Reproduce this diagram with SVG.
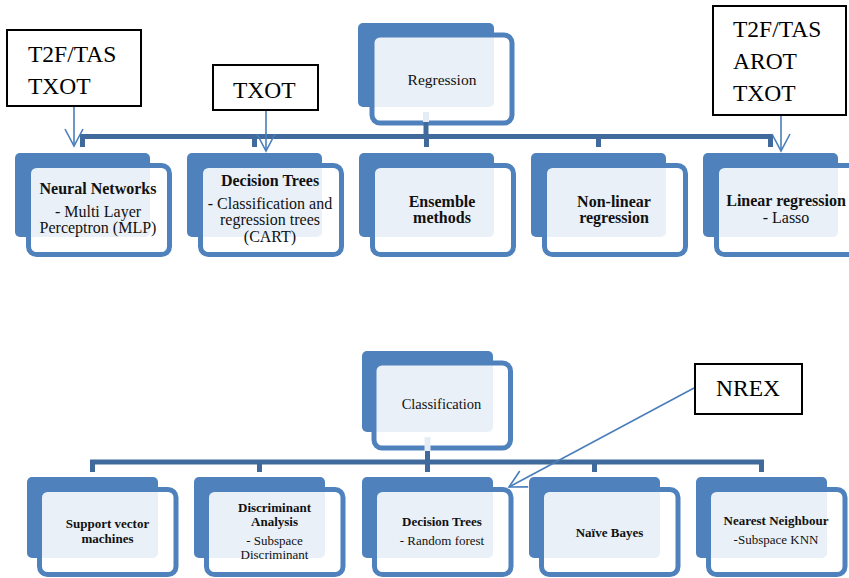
<svg xmlns="http://www.w3.org/2000/svg" width="849" height="578" viewBox="0 0 849 578">
<defs>
<style>
.back{fill:#4F81BD}
.front{fill:#FFFFFF;fill-opacity:0.88;stroke:#4F81BD;stroke-width:5}
.t{font-family:"Liberation Serif","Times New Roman",serif;fill:#111;text-anchor:middle}
.b{font-weight:bold}
.big{font-size:16px}
.sm{font-size:13px}
.conn{fill:none;stroke:#416A9C;stroke-width:5;stroke-linejoin:miter}
.stub{fill:none;stroke:#E6ECF4;stroke-width:6}
.note{fill:#FFFFFF;stroke:#000;stroke-width:2}
.nt{font-family:"Liberation Serif","Times New Roman",serif;font-size:23.5px;fill:#000}
.arr{fill:none;stroke:#4A7EBB;stroke-width:1.6;marker-end:url(#ah)}
</style>
<marker id="ah" markerUnits="userSpaceOnUse" markerWidth="40" markerHeight="40" refX="0" refY="0" orient="auto" overflow="visible" viewBox="-20 -20 40 40">
<path d="M-17,-9 L0,0 L-17,9" fill="none" stroke="#4A7EBB" stroke-width="1.6"/>
</marker>
</defs>

<!-- Top hierarchy -->
<g id="regression">
<rect class="back" x="358" y="23" width="136" height="84" rx="5"/>
<rect class="front" x="372" y="35" width="140" height="88" rx="8"/>
<text class="t" x="442" y="85" font-size="15.5">Regression</text>
</g>
<g id="neural-networks">
<rect class="back" x="15" y="153" width="135" height="84" rx="5"/>
<rect class="front" x="28.5" y="165.5" width="141" height="89" rx="8"/>
<text class="t big"><tspan class="b" x="98" y="194">Neural Networks</tspan><tspan x="98" y="217">- Multi Layer</tspan><tspan x="98" y="233">Perceptron (MLP)</tspan></text>
</g>
<g id="decision-trees-reg">
<rect class="back" x="187" y="153" width="135" height="84" rx="5"/>
<rect class="front" x="200.5" y="165.5" width="141" height="89" rx="8"/>
<text class="t big"><tspan class="b" x="270" y="186">Decision Trees</tspan><tspan x="270" y="209">- Classification  and</tspan><tspan x="270" y="225">regression trees</tspan><tspan x="270" y="242">(CART)</tspan></text>
</g>
<g id="ensemble">
<rect class="back" x="359" y="153" width="135" height="84" rx="5"/>
<rect class="front" x="372.5" y="165.5" width="141" height="89" rx="8"/>
<text class="t big b"><tspan x="442" y="207">Ensemble</tspan><tspan x="442" y="223">methods</tspan></text>
</g>
<g id="non-linear">
<rect class="back" x="531" y="153" width="135" height="84" rx="5"/>
<rect class="front" x="544.5" y="165.5" width="141" height="89" rx="8"/>
<text class="t big b"><tspan x="614" y="207">Non-linear</tspan><tspan x="614" y="223">regression</tspan></text>
</g>
<g id="linear-regression">
<rect class="back" x="703" y="153" width="135" height="84" rx="5"/>
<rect class="front" x="716.5" y="165.5" width="141" height="89" rx="8"/>
<text class="t big"><tspan class="b" x="786" y="206">Linear regression</tspan><tspan x="786" y="223">- Lasso</tspan></text>
</g>

<!-- Bottom hierarchy -->
<g id="classification">
<rect class="back" x="362" y="351" width="131" height="81" rx="5"/>
<rect class="front" x="374" y="363" width="136.5" height="85" rx="8"/>
<text class="t" x="441.5" y="409" font-size="14.5">Classification</text>
</g>
<g id="svm">
<rect class="back" x="27" y="477" width="131" height="81" rx="5"/>
<rect class="front" x="39.5" y="489.5" width="136.5" height="85" rx="8"/>
<text class="t sm b"><tspan x="107.5" y="528">Support  vector</tspan><tspan x="107.5" y="543">machines</tspan></text>
</g>
<g id="discriminant">
<rect class="back" x="194" y="477" width="131" height="81" rx="5"/>
<rect class="front" x="206.5" y="489.5" width="136.5" height="85" rx="8"/>
<text class="t sm"><tspan class="b" x="274.5" y="512">Discriminant</tspan><tspan class="b" x="274.5" y="526">Analysis</tspan><tspan x="274.5" y="545">- Subspace</tspan><tspan x="274.5" y="559">Discriminant</tspan></text>
</g>
<g id="decision-trees-cls">
<rect class="back" x="362" y="477" width="131" height="81" rx="5"/>
<rect class="front" x="374.5" y="489.5" width="136.5" height="85" rx="8"/>
<text class="t sm"><tspan class="b" x="442" y="526">Decision Trees</tspan><tspan x="442" y="545">- Random forest</tspan></text>
</g>
<g id="naive-bayes">
<rect class="back" x="529" y="477" width="131" height="81" rx="5"/>
<rect class="front" x="541.5" y="489.5" width="136.5" height="85" rx="8"/>
<text class="t sm b" x="609.5" y="537">Naïve Bayes</text>
</g>
<g id="nearest-neighbour">
<rect class="back" x="696" y="477" width="131" height="81" rx="5"/>
<rect class="front" x="708.5" y="489.5" width="136.5" height="85" rx="8"/>
<text class="t sm"><tspan class="b" x="776" y="525">Nearest Neighbour</tspan><tspan x="776" y="544">-Subspace KNN</tspan></text>
</g>

<!-- Connectors -->
<g id="connectors">
<path class="stub" d="M426,112 V122"/>
<path class="conn" d="M426,122 V136.5"/>
<path class="conn" d="M82.5,147 V136.5 H770.5 V147 M254.5,136.5 V147 M426.5,136.5 V147 M598.5,136.5 V147"/>
<path class="stub" d="M427.5,437 V451"/>
<path class="conn" d="M427.5,451 V462"/>
<path class="conn" d="M92.5,472 V462 H761.5 V472 M259.5,462 V472 M427.5,462 V472 M594.5,462 V472"/>
</g>

<!-- Annotations -->
<g id="note-t2f-txot">
<rect class="note" x="7" y="30" width="134" height="76"/>
<text class="nt"><tspan x="28" y="62">T2F/TAS</tspan><tspan x="28" y="94">TXOT</tspan></text>
</g>
<g id="note-txot">
<rect class="note" x="213" y="65" width="105" height="45"/>
<text class="nt" x="233" y="98">TXOT</text>
</g>
<g id="note-t2f-arot-txot">
<rect class="note" x="713" y="6" width="133" height="109"/>
<text class="nt"><tspan x="733" y="37">T2F/TAS</tspan><tspan x="733" y="69">AROT</tspan><tspan x="733" y="101">TXOT</tspan></text>
</g>
<g id="note-nrex">
<rect class="note" x="695" y="364" width="107" height="50"/>
<text class="nt" x="716" y="396">NREX</text>
</g>

<g id="annotation-arrows">
<path class="arr" d="M74,107 V146"/>
<path class="arr" d="M266,111 V151"/>
<path class="arr" d="M781,116 V151"/>
<path class="arr" d="M694,388 L509,487"/>
</g>
</svg>
